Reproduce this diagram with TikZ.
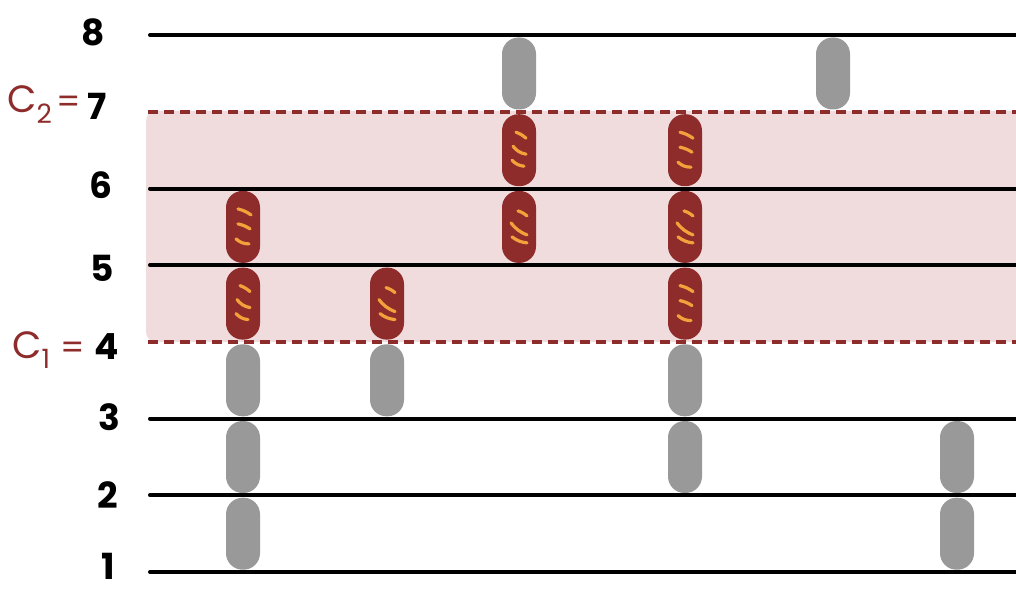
\documentclass[tikz,border=0pt]{standalone}
\usepackage{fontspec}
\newfontfamily\hand{Poppins}
\definecolor{darkred}{HTML}{8E2B2B}
\definecolor{pinkband}{HTML}{F0DCDD}
\definecolor{pillgray}{HTML}{999999}
\definecolor{marky}{HTML}{F2A23A}
\begin{document}
\begin{tikzpicture}[x=1pt,y=-1pt,
  level/.style={line width=4pt, line cap=round},
  cut/.style={darkred, line width=4pt, dash pattern=on 10pt off 6pt},
  pill/.style={rectangle, rounded corners=16.5pt, minimum width=34pt, minimum height=72pt, inner sep=0pt},
  grayp/.style={pill, fill=pillgray},
  redp/.style={pill, fill=darkred},
  lab/.style={font=\hand\bfseries\fontsize{36}{36}\selectfont, inner sep=0pt},
  clab/.style={font=\hand\fontsize{38}{38}\selectfont, text=darkred, inner sep=0pt},
  elab/.style={font=\hand\fontsize{34}{34}\selectfont, text=darkred, inner sep=0pt},
  sk/.style={marky, line width=3.2pt, line cap=round},
  marksa/.pic={
    \draw[sk] (-5,-18) to[bend left=10] (8,-12);
    \draw[sk] (-5,-3) to[bend left=10] (7,2);
    \draw[sk] (-7,12) to[bend right=20] (6,17);
  },
  marksb/.pic={
    \draw[sk] (-3,-18) to[bend left=10] (7,-12);
    \draw[sk] (-6,-4) to[bend right=20] (7,4);
    \draw[sk] (-7,10) to[bend right=20] (5,16);
  },
  marksc/.pic={
    \draw[sk] (-1,-16) to[bend left=10] (8,-11);
    \draw[sk] (-8,-4) to[bend right=15] (8,8);
    \draw[sk] (-7,10) to[bend right=15] (8,16);
  }]
\useasboundingbox (0,0) rectangle (1016,591);
% band
\fill[pinkband, rounded corners=10pt] (146,111) rectangle (1040,342);
% pills
\node[grayp] (p11) at (243,533.7) {};
\node[grayp] (p12) at (243,457.0) {};
\node[grayp] (p13) at (243,380.3) {};
\node[redp]  (p14) at (243,303.6) {};
\node[redp]  (p15) at (243,226.9) {};
\node[grayp] (p23) at (387,380.3) {};
\node[redp]  (p24) at (387,303.6) {};
\node[redp]  (p35) at (519,226.9) {};
\node[redp]  (p36) at (519,150.2) {};
\node[grayp] (p37) at (519,73.5) {};
\node[grayp] (p42) at (685,457.0) {};
\node[grayp] (p43) at (685,380.3) {};
\node[redp]  (p44) at (685,303.6) {};
\node[redp]  (p45) at (685,226.9) {};
\node[redp]  (p46) at (685,150.2) {};
\node[grayp] (p57) at (833,73.5) {};
\node[grayp] (p61) at (957,533.7) {};
\node[grayp] (p62) at (957,457.0) {};
% marks
\pic at (p14.center) {marksb};
\pic at (p15.center) {marksa};
\pic at (p24.center) {marksc};
\pic at (p35.center) {marksc};
\pic at (p36.center) {marksb};
\pic at (p44.center) {marksa};
\pic at (p45.center) {marksc};
\pic at (p46.center) {marksa};
% levels
\coordinate (l1a) at (150,572); \coordinate (l1b) at (1020,572);
\coordinate (l2a) at (150,495.3); \coordinate (l2b) at (1020,495.3);
\coordinate (l3a) at (150,418.6); \coordinate (l3b) at (1020,418.6);
\coordinate (l4a) at (148,341.9); \coordinate (l4b) at (1020,341.9);
\coordinate (l5a) at (150,265.2); \coordinate (l5b) at (1020,265.2);
\coordinate (l6a) at (150,188.5); \coordinate (l6b) at (1020,188.5);
\coordinate (l7a) at (148,111.8); \coordinate (l7b) at (1020,111.8);
\coordinate (l8a) at (150,35.1); \coordinate (l8b) at (1020,35.1);
\draw[level] (l1a) -- (l1b);
\draw[level] (l2a) -- (l2b);
\draw[level] (l3a) -- (l3b);
\draw[level] (l5a) -- (l5b);
\draw[level] (l6a) -- (l6b);
\draw[level] (l8a) -- (l8b);
\draw[cut] (l4a) -- (l4b);
\draw[cut] (l7a) -- (l7b);
% labels
\node[lab] (n8) at (93,32) {8};
\node[lab] (n7) at (97,106) {7};
\node[lab] (n6) at (101,185) {6};
\node[lab] (n5) at (102,268) {5};
\node[lab] (n4) at (107,347) {4};
\node[lab] (n3) at (109,417) {3};
\node[lab] (n2) at (108,495) {2};
\node[lab] (n1) at (108,566) {1};
\node[clab, anchor=west] (c2) at (7,105) {C\textsubscript{2}};
\node[elab] (e2) at (69,105) {=};
\node[clab, anchor=west] (c1) at (12,350) {C\textsubscript{1}};
\node[elab] (e1) at (73,351) {=};
\end{tikzpicture}
\end{document}
